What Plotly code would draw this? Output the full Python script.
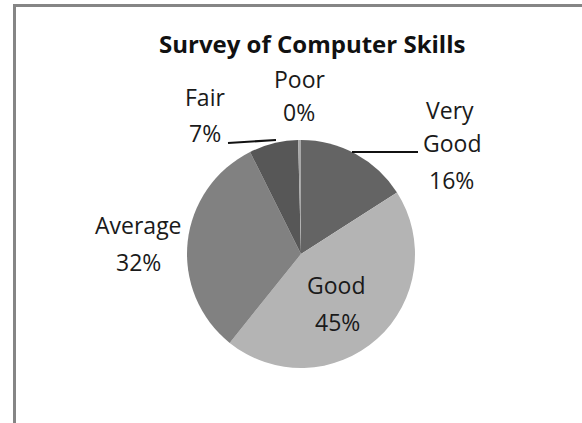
import plotly.graph_objects as go

# ---- data ----
categories = ["Very Good", "Good", "Average", "Fair", "Poor"]
values = [16, 45, 32, 7, 0.4]
colors = ["#646464", "#b4b4b4", "#818181", "#575757", "#a8a8a8"]

W, H = 582, 423
FONT = "Open Sans"

def px(x):
    return x / W

def py(y):
    return 1 - y / H

total = sum(values)
pct = {c: f"{round(v / total * 100)}%" for c, v in zip(categories, values)}

# pie geometry (pixels)
cx, cy, r = 301, 254, 114

fig = go.Figure(
    go.Pie(
        labels=categories,
        values=values,
        marker=dict(colors=colors, line=dict(width=0)),
        sort=False,
        direction="clockwise",
        rotation=0,
        textinfo="none",
        hoverinfo="label+percent",
        showlegend=False,
        domain=dict(x=[px(cx - r), px(cx + r)], y=[py(cy + r), py(cy - r)]),
    )
)

# label positions (pixel centers of each text line)
label_lines = {
    "Poor": [("Poor", 300, 79), (pct["Poor"], 299, 112)],
    "Fair": [("Fair", 205, 97), (pct["Fair"], 205, 133)],
    "Very Good": [("Very", 450, 110), ("Good", 452, 143), (pct["Very Good"], 451, 180)],
    "Average": [("Average", 138, 225), (pct["Average"], 138, 262)],
    "Good": [("Good", 336, 285), (pct["Good"], 337, 322)],
}

annotations = []
for cat, lines in label_lines.items():
    for txt, x, y in lines:
        annotations.append(
            dict(
                text=txt, x=px(x), y=py(y), xref="paper", yref="paper",
                xanchor="center", yanchor="middle", showarrow=False,
                font=dict(family=FONT, size=23, color="#1a1a1a"),
            )
        )

annotations.append(
    dict(
        text="<b>Survey of Computer Skills</b>", x=px(312), y=py(43),
        xref="paper", yref="paper", xanchor="center", yanchor="middle",
        showarrow=False, font=dict(family=FONT, size=24, color="#111111"),
    )
)

shapes = [
    # frame
    dict(type="line", xref="paper", yref="paper", x0=px(13), x1=1, y0=py(5.5), y1=py(5.5),
         line=dict(color="#858585", width=3)),
    dict(type="line", xref="paper", yref="paper", x0=px(14.5), x1=px(14.5), y0=py(4), y1=0,
         line=dict(color="#858585", width=3)),
    # leader lines
    dict(type="line", xref="paper", yref="paper", x0=px(228), x1=px(276), y0=py(143), y1=py(140),
         line=dict(color="#111111", width=2)),
    dict(type="line", xref="paper", yref="paper", x0=px(352), x1=px(418), y0=py(152), y1=py(152),
         line=dict(color="#111111", width=2)),
]

fig.update_layout(
    width=W, height=H,
    margin=dict(l=0, r=0, t=0, b=0),
    paper_bgcolor="white",
    plot_bgcolor="white",
    annotations=annotations,
    shapes=shapes,
    font=dict(family=FONT),
)

fig.write_html("out.html")
